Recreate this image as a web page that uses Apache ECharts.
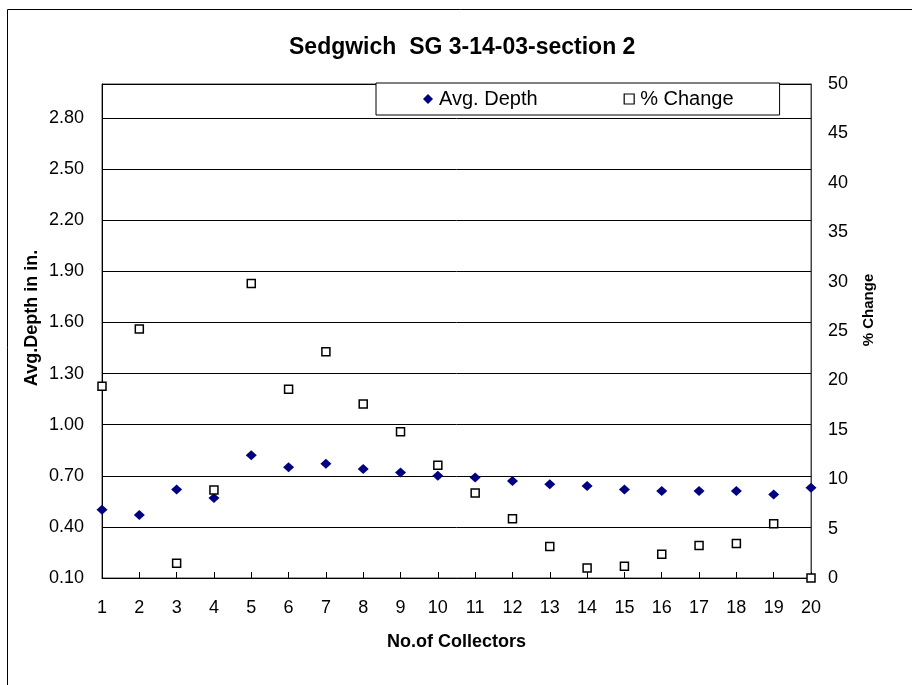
<!DOCTYPE html>
<html>
<head>
<meta charset="utf-8">
<script src="https://cdn.jsdelivr.net/npm/echarts@6/dist/echarts.min.js"></script>
<style>
html,body{margin:0;padding:0;background:#fff;}
#chart{width:912px;height:685px;}
</style>
</head>
<body>
<div id="chart"></div>
<script>
var collectors = [1,2,3,4,5,6,7,8,9,10,11,12,13,14,15,16,17,18,19,20];
var avgDepth = [0.50,0.47,0.62,0.57,0.82,0.75,0.77,0.74,0.72,0.70,0.69,0.67,0.65,0.64,0.62,0.61,0.61,0.61,0.59,0.63];
var pctChange = [19.4,25.2,1.5,8.9,29.8,19.1,22.9,17.6,14.8,11.4,8.6,6.0,3.2,1.0,1.2,2.4,3.3,3.5,5.5,0];
var titleText = 'Sedgwich  SG 3-14-03-section 2';
var xName = 'No.of Collectors';
var yLeftName = 'Avg.Depth in in.';
var yRightName = '% Change';

var FONT = '"Liberation Sans", Arial, sans-serif';
var chart = echarts.init(document.getElementById('chart'));
chart.setOption({
  backgroundColor: '#fff',
  animation: false,
  textStyle: {fontFamily: FONT},
  title: {
    text: titleText,
    left: 284,
    top: 31,
    textStyle: {fontFamily: FONT, fontSize: 23, fontWeight: 'bold', color: '#000'}
  },
  graphic: [{
    type: 'rect', left: 5, top: 7, z: -10,
    shape: {width: 1000, height: 1000},
    style: {fill: 'none', stroke: '#000', lineWidth: 1}
  }, {
    type: 'text', x: 32, y: 318, rotation: Math.PI / 2,
    style: {text: yLeftName, font: 'bold 18px ' + FONT, fill: '#000', textAlign: 'center', textVerticalAlign: 'middle'}
  }, {
    type: 'text', x: 869, y: 310, rotation: Math.PI / 2,
    style: {text: yRightName, font: 'bold 15px ' + FONT, fill: '#000', textAlign: 'center', textVerticalAlign: 'middle'}
  }],
  legend: {
    left: 376, top: 83,
    padding: [6, 46, 6, 47],
    itemGap: 86,
    itemWidth: 10, itemHeight: 10,
    backgroundColor: '#fff',
    borderColor: '#000', borderWidth: 1,
    textStyle: {fontFamily: FONT, fontSize: 20, color: '#000', padding: [0,0,0,1]},
    data: [
      {name: 'Avg. Depth', icon: 'diamond'},
      {name: '% Change', icon: 'rect', itemStyle: {color: '#fff', borderColor: '#000', borderWidth: 1.2}}
    ]
  },
  grid: {left: 102, right: 101, top: 84, bottom: 107, show: true, borderColor: '#444', borderWidth: 1},
  xAxis: {
    type: 'value', min: 1, max: 20, interval: 1,
    name: xName, nameLocation: 'middle', nameGap: 55,
    nameTextStyle: {fontFamily: FONT, fontSize: 18, fontWeight: 'bold', color: '#000'},
    axisLine: {lineStyle: {color: '#000', width: 1}},
    axisTick: {inside: true, length: 6, lineStyle: {color: '#000'}},
    axisLabel: {margin: 21, fontSize: 18, color: '#000', fontFamily: FONT},
    splitLine: {show: false}
  },
  yAxis: [{
    type: 'value', min: 0.1, max: 3.0, interval: 0.3,
    axisLine: {show: true, lineStyle: {color: '#000', width: 1}},
    axisTick: {show: false},
    axisLabel: {margin: 18, fontSize: 18, color: '#000', fontFamily: FONT, showMaxLabel: false,
      formatter: function(v){ return v.toFixed(2); }},
    splitLine: {show: true, lineStyle: {color: '#000', width: 1}}
  }, {
    type: 'value', min: 0, max: 50, interval: 5, position: 'right',
    axisLine: {show: true, lineStyle: {color: '#444', width: 1}},
    axisTick: {show: false},
    axisLabel: {margin: 17, fontSize: 18, color: '#000', fontFamily: FONT},
    splitLine: {show: false}
  }],
  series: [{
    name: 'Avg. Depth', type: 'scatter', yAxisIndex: 0,
    symbol: 'diamond', symbolSize: [11, 10],
    itemStyle: {color: '#000080', opacity: 1},
    data: collectors.map(function(c, i){ return [c, avgDepth[i]]; }),
    z: 3
  }, {
    name: '% Change', type: 'scatter', yAxisIndex: 1,
    symbol: 'rect', symbolSize: 8,
    itemStyle: {color: '#fff', borderColor: '#000', borderWidth: 1.5, opacity: 1},
    data: collectors.map(function(c, i){ return [c, pctChange[i]]; }),
    z: 4
  }]
});
</script>
</body>
</html>
